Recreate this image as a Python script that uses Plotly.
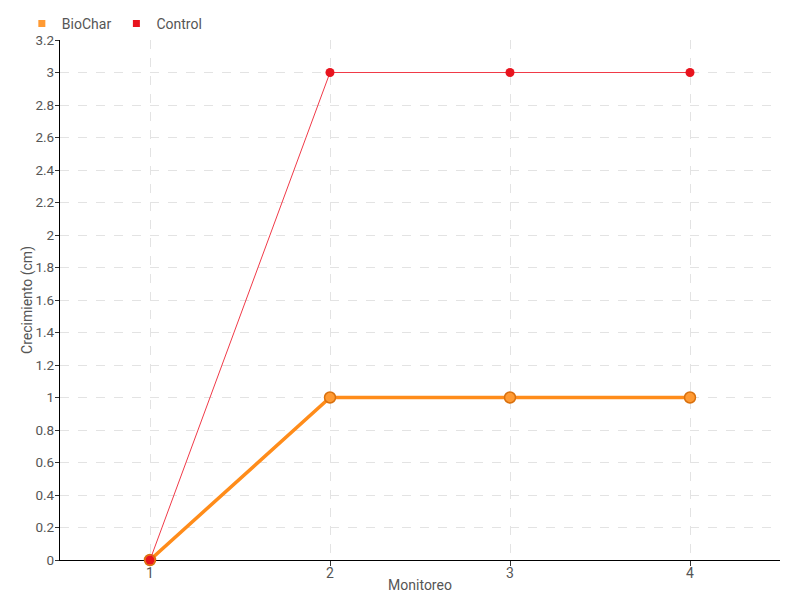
import plotly.graph_objects as go

monitoreo = [1, 2, 3, 4]
biochar = [0, 1, 1, 1]
control = [0, 3, 3, 3]
y_ticks = [0, 0.2, 0.4, 0.6, 0.8, 1, 1.2, 1.4, 1.6, 1.8, 2, 2.2, 2.4, 2.6, 2.8, 3, 3.2]

FONT = "Roboto, sans-serif"
ORANGE = "#FF8C1A"
RED = "#E8141E"

fig = go.Figure()
fig.add_trace(go.Scatter(
    x=monitoreo, y=biochar, name="BioChar", mode="lines+markers", showlegend=False,
    cliponaxis=False,
    line=dict(color=ORANGE, width=3.5),
    marker=dict(symbol="circle", size=11, color="#FF9A33", line=dict(color="#D9700D", width=1.5)),
))
fig.add_trace(go.Scatter(
    x=monitoreo, y=control, name="Control", mode="lines+markers", showlegend=False,
    cliponaxis=False,
    line=dict(color="#F03A48", width=1),
    marker=dict(symbol="circle", size=9, color=RED),
))
# legend entries (square swatches)
fig.add_trace(go.Scatter(x=[None], y=[None], name="BioChar", mode="markers",
                         marker=dict(symbol="square", size=7, color="#FF9A33")))
fig.add_trace(go.Scatter(x=[None], y=[None], name="Control", mode="markers",
                         marker=dict(symbol="square", size=7, color=RED)))

fig.update_layout(
    width=792, height=592,
    margin=dict(l=52, r=20, t=32, b=40, autoexpand=False),
    paper_bgcolor="white", plot_bgcolor="white",
    font=dict(family=FONT, size=13, color="#444"),
    showlegend=True,
    legend=dict(orientation="h", x=-0.053, xanchor="left", y=1.0, yanchor="bottom",
                font=dict(size=14, color="#555"), itemwidth=30,
                tracegroupgap=0, bgcolor="rgba(0,0,0,0)"),
    xaxis=dict(
        range=[0.5, 4.5], tickvals=monitoreo, ticktext=[str(v) for v in monitoreo],
        showline=True, linecolor="black", linewidth=1.2, automargin=False,
        layer="below traces",
        ticks="outside", ticklen=5, tickcolor="#333", ticklabelstandoff=-5,
        showgrid=True, gridcolor="#e3e3e3", griddash="dash", zeroline=False,
        title=dict(text="Monitoreo", standoff=0, font=dict(size=14, color="#555")),
        tickfont=dict(size=14, color="#555"),
    ),
    yaxis=dict(
        range=[0, 3.2], tickvals=y_ticks, ticktext=[f"{v:g}" for v in y_ticks],
        showline=True, linecolor="black", linewidth=1.2, automargin=False,
        layer="below traces",
        ticks="outside", ticklen=4, tickcolor="#333", ticklabelstandoff=-2,
        showgrid=True, gridcolor="#e3e3e3", griddash="dash", zeroline=False,
        tickfont=dict(size=13.5, color="#555"),
    ),
    annotations=[dict(text="Crecimiento (cm)", xref="paper", yref="paper",
                      x=-0.046, y=0.5, xanchor="center", yanchor="middle",
                      textangle=-90, showarrow=False,
                      font=dict(size=14, color="#555"))],
)

fig.write_html("out.html")
